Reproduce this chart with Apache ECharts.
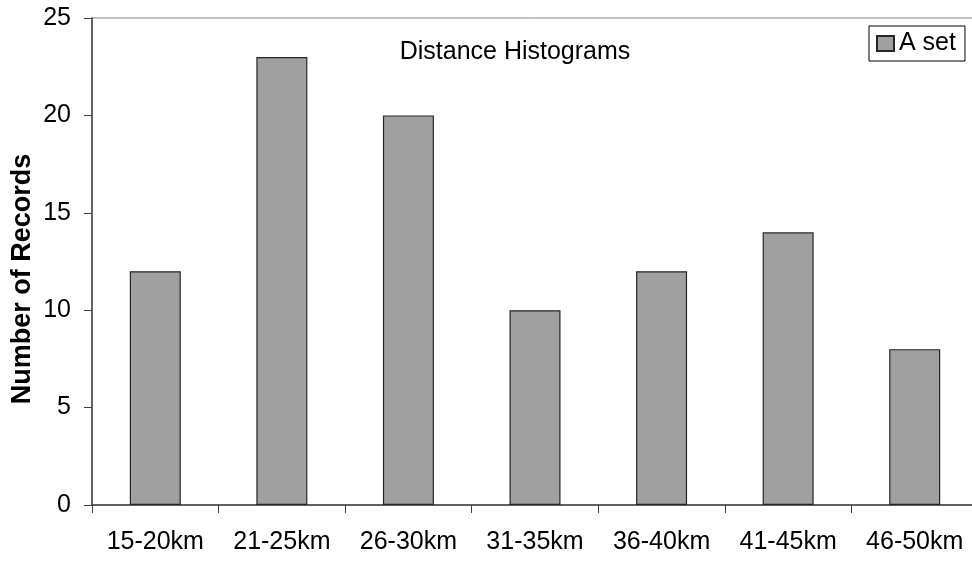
<!DOCTYPE html>
<html>
<head>
<meta charset="utf-8">
<style>html,body{margin:0;padding:0;background:#fff;}#c{width:972px;height:563px;}</style>
<script src="https://cdn.jsdelivr.net/npm/echarts@6/dist/echarts.min.js"></script>
</head>
<body>
<div id="c"></div>
<script>
var categories = ['15-20km', '21-25km', '26-30km', '31-35km', '36-40km', '41-45km', '46-50km'];
var aSet = [12, 23, 20, 10, 12, 14, 8];
var yTicks = [0, 5, 10, 15, 20, 25];

var FONT = '"Liberation Sans", Arial, sans-serif';
var chart = echarts.init(document.getElementById('c'), null, {renderer: 'canvas'});
chart.setOption({
  animation: false,
  backgroundColor: '#fff',
  textStyle: {fontFamily: FONT},
  title: {
    text: 'Distance Histograms',
    left: 515, top: 40, textAlign: 'center', padding: 0,
    textStyle: {fontFamily: FONT, fontSize: 25, fontWeight: 'normal', color: '#000'}
  },
  legend: {
    data: ['A set'],
    left: 869, top: 26,
    padding: [5, 9, 5, 7],
    borderColor: '#000', borderWidth: 1,
    itemWidth: 17, itemHeight: 15,
    icon: 'rect',
    textStyle: {fontFamily: FONT, fontSize: 25, color: '#000'}
  },
  grid: {
    left: 92, top: 18, width: 886, height: 487,
    outerBoundsMode: 'none',
    containLabel: false,
    show: true, borderColor: '#888', borderWidth: 1, backgroundColor: 'transparent'
  },
  xAxis: {
    type: 'category',
    data: categories,
    axisLine: {lineStyle: {color: '#404040', width: 1.5}},
    axisTick: {show: true, length: 8, lineStyle: {color: '#404040'}},
    axisLabel: {fontFamily: FONT, fontSize: 25, color: '#000', margin: 25, interval: 0}
  },
  yAxis: {
    type: 'value',
    min: yTicks[0], max: yTicks[yTicks.length - 1], interval: 5,
    axisLine: {show: true, lineStyle: {color: '#404040', width: 1.5}},
    axisTick: {show: true, length: 8, lineStyle: {color: '#404040'}},
    splitLine: {show: false},
    axisLabel: {fontFamily: FONT, fontSize: 25, color: '#000', margin: 21}
  },
  graphic: [{
    type: 'text',
    x: 23, y: 279, rotation: Math.PI / 2,
    style: {
      text: 'Number of Records',
      fontFamily: FONT, fontSize: 27, fontWeight: 'bold', fill: '#000',
      align: 'center', verticalAlign: 'middle'
    }
  }],
  series: [{
    name: 'A set',
    type: 'bar',
    data: aSet,
    barWidth: 51,
    itemStyle: {color: '#a0a0a0', borderColor: '#262626', borderWidth: 1.2}
  }]
});
</script>
</body>
</html>
